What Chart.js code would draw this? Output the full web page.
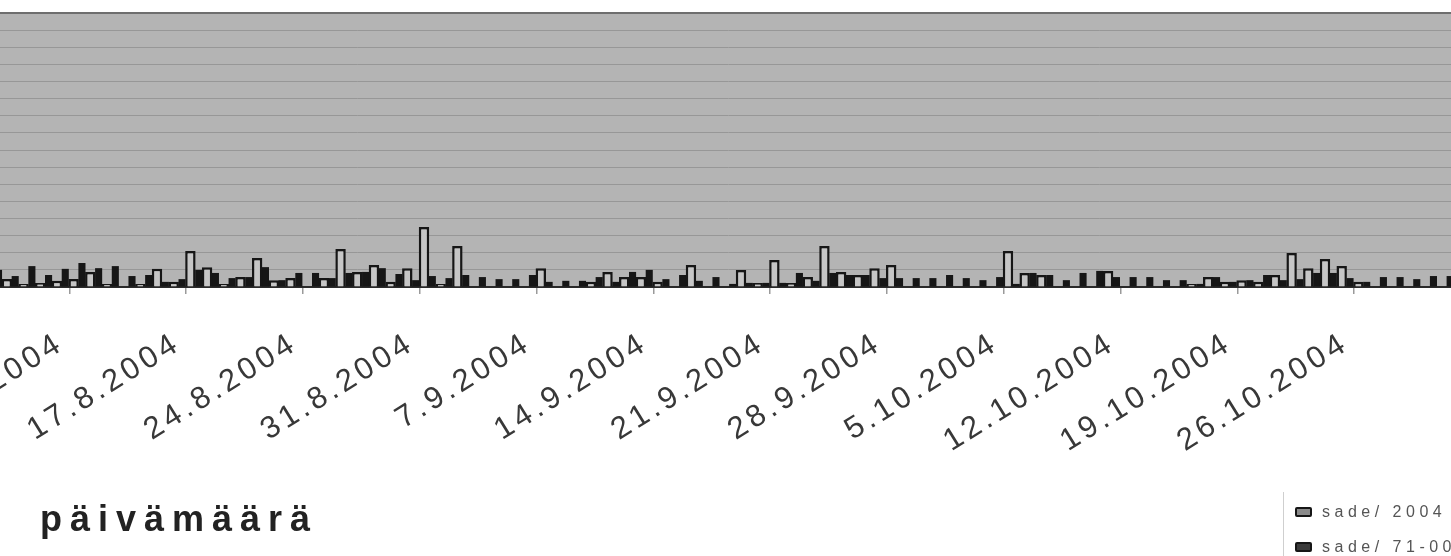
<!DOCTYPE html>
<html lang="fi">
<head>
<meta charset="utf-8">
<script src="https://cdn.jsdelivr.net/npm/chart.js@4.4.1/dist/chart.umd.min.js"></script>
<style>
  html, body { margin: 0; padding: 0; width: 1451px; height: 556px; overflow: hidden; background: #fff; }
  #wrap { position: absolute; left: -14px; top: 0; width: 1485px; height: 556px; }
  #title { position: absolute; left: 40px; top: 501px; font: bold 36px/36px "Liberation Sans", Arial, sans-serif;
           letter-spacing: 8px; color: #222; white-space: nowrap; }
  #legend { position: absolute; left: 1283px; top: 492px; width: 200px; height: 64px; border-left: 1px solid #cfcfcf;
            font: 16px/16px "Liberation Sans", Arial, sans-serif; color: #555; letter-spacing: 4.5px; white-space: nowrap; }
  .item { position: absolute; left: 11px; display: flex; align-items: center; }
  .box { width: 13px; height: 6px; border: 2px solid #111; border-radius: 2px; margin-right: 10px; }
</style>
</head>
<body>
<div id="wrap"><canvas id="rainChart" width="1485" height="556"></canvas></div>
<div id="title">päivämäärä</div>
<div id="legend"></div>
<script>
// päivät 6.8.2004 - 2.11.2004
var DAYS = [
  '6.8.2004', '7.8.2004', '8.8.2004', '9.8.2004', '10.8.2004', '11.8.2004', '12.8.2004', '13.8.2004',
  '14.8.2004', '15.8.2004', '16.8.2004', '17.8.2004', '18.8.2004', '19.8.2004', '20.8.2004', '21.8.2004',
  '22.8.2004', '23.8.2004', '24.8.2004', '25.8.2004', '26.8.2004', '27.8.2004', '28.8.2004', '29.8.2004',
  '30.8.2004', '31.8.2004',
  '1.9.2004', '2.9.2004', '3.9.2004', '4.9.2004', '5.9.2004', '6.9.2004', '7.9.2004', '8.9.2004',
  '9.9.2004', '10.9.2004', '11.9.2004', '12.9.2004', '13.9.2004', '14.9.2004', '15.9.2004', '16.9.2004',
  '17.9.2004', '18.9.2004', '19.9.2004', '20.9.2004', '21.9.2004', '22.9.2004', '23.9.2004', '24.9.2004',
  '25.9.2004', '26.9.2004', '27.9.2004', '28.9.2004', '29.9.2004', '30.9.2004',
  '1.10.2004', '2.10.2004', '3.10.2004', '4.10.2004', '5.10.2004', '6.10.2004', '7.10.2004', '8.10.2004',
  '9.10.2004', '10.10.2004', '11.10.2004', '12.10.2004', '13.10.2004', '14.10.2004', '15.10.2004', '16.10.2004',
  '17.10.2004', '18.10.2004', '19.10.2004', '20.10.2004', '21.10.2004', '22.10.2004', '23.10.2004', '24.10.2004',
  '25.10.2004', '26.10.2004', '27.10.2004', '28.10.2004', '29.10.2004', '30.10.2004', '31.10.2004',
  '1.11.2004', '2.11.2004'
];

// näytettävät päivämäärät akselilla
var TICK_DAYS = ['10.8.2004', '17.8.2004', '24.8.2004', '31.8.2004', '7.9.2004', '14.9.2004',
  '21.9.2004', '28.9.2004', '5.10.2004', '12.10.2004', '19.10.2004', '26.10.2004'];

// sade mm / vrk
var SADE_2004 = [
  1.2, 2.3, 0.9, 1.2, 1.8, 2.3, 4.4, 0.9, 0, 0.9, 5.3, 1.5, 10.5, 5.8, 0.9, 2.9,
  8.5, 2.0, 2.6, 0, 2.6, 11.1, 4.4, 6.4, 1.5, 5.5,
  17.5, 0.9, 12.0, 0, 0, 0, 0, 5.5, 0, 0, 1.5, 4.4, 2.9, 2.9, 1.5, 0,
  6.4, 0, 0, 5.0, 1.2, 7.9, 1.2, 2.9, 12.0, 4.4, 3.5, 5.5, 6.4, 0,
  0, 0, 0, 0, 0, 10.5, 4.1, 3.5, 0, 0, 0, 4.7, 0, 0, 0, 0,
  0.9, 2.9, 1.5, 2.0, 1.5, 3.5, 9.9, 5.5, 8.2, 6.1, 1.5, 0, 0, 0, 0,
  0, 0
];
var SADE_71_00 = [
  5.0, 3.2, 6.1, 3.5, 5.3, 7.0, 5.5, 6.1, 3.2, 3.5, 1.5, 2.3, 5.0, 4.1, 2.6, 2.9,
  5.8, 2.0, 4.1, 4.1, 2.6, 4.1, 4.4, 5.5, 3.8, 2.0,
  3.2, 2.6, 3.5, 2.9, 2.3, 2.3, 3.5, 1.5, 1.8, 1.8, 2.9, 1.5, 4.4, 5.0, 2.3, 3.5,
  1.8, 2.9, 0.9, 1.2, 1.2, 1.2, 4.1, 1.8, 4.1, 3.5, 3.5, 2.6, 2.6, 2.6,
  2.6, 3.5, 2.6, 2.0, 2.9, 0.9, 4.1, 3.5, 2.0, 4.1, 4.7, 2.9, 2.9, 2.9, 2.0, 2.0,
  0.9, 2.9, 1.5, 2.0, 3.5, 2.0, 2.3, 4.1, 4.1, 2.6, 1.5, 2.9, 2.9, 2.3, 3.2,
  3.2, 2.9
];

var LABEL_SPACING = '4px';

function isWeekMark(i) {
  return i > 0 && TICK_DAYS.indexOf(DAYS[i - 1]) !== -1;
}

var plotBackground = {
  id: 'plotBackground',
  beforeLayout: function(chart) {
    chart.ctx.letterSpacing = LABEL_SPACING;
  },
  beforeDraw: function(chart) {
    var ctx = chart.ctx;
    var a = chart.chartArea;
    ctx.letterSpacing = LABEL_SPACING;
    ctx.save();
    ctx.fillStyle = '#b4b4b4';
    ctx.fillRect(a.left, a.top, a.right - a.left, a.bottom - a.top);
    ctx.restore();
  }
};

document.addEventListener('DOMContentLoaded', function() {
    var ctx = document.getElementById('rainChart').getContext('2d');
    var rainChart = new Chart(ctx, {
        type: 'bar',
        data: {
            labels: DAYS,
            datasets: [{
                label: 'sade/ 2004',
                data: SADE_2004,
                backgroundColor: '#c6c6c6',
                borderColor: '#161616',
                borderWidth: 2.5,
                barPercentage: 1.25,
                categoryPercentage: 1
            }, {
                label: 'sade/ 71-00',
                data: SADE_71_00,
                backgroundColor: '#161616',
                borderColor: '#161616',
                borderWidth: 0,
                barPercentage: 0.85,
                categoryPercentage: 1
            }]
        },
        options: {
            responsive: false,
            animation: false,
            layout: { padding: { top: 13, left: 0, right: 0, bottom: 0 } },
            plugins: {
                legend: { display: false },
                tooltip: { enabled: false }
            },
            scales: {
                x: {
                    grid: {
                        offset: true,
                        drawOnChartArea: false,
                        tickLength: 7,
                        lineWidth: 1.5,
                        color: function(c) { return isWeekMark(c.index) ? '#9a9a9a' : 'rgba(0,0,0,0)'; }
                    },
                    border: { color: '#2a2a2a', width: 2 },
                    ticks: {
                        autoSkip: false,
                        minRotation: 32,
                        maxRotation: 32,
                        padding: 31,
                        color: '#383838',
                        font: { family: '"Liberation Sans", Arial, sans-serif', size: 31 },
                        callback: function(value, index) {
                            return TICK_DAYS.indexOf(DAYS[index]) !== -1 ? DAYS[index] : '';
                        }
                    },
                    afterFit: function(scale) {
                        scale.height = 269;
                        scale.paddingLeft = 0;
                        scale.paddingRight = 0;
                    }
                },
                y: {
                    min: 0,
                    max: 80,
                    ticks: { display: false, stepSize: 5 },
                    grid: {
                        drawTicks: false,
                        color: function(c) { return c.tick.value === 80 ? '#6e6e6e' : '#979797'; },
                        lineWidth: function(c) { return c.tick.value === 80 ? 2 : 1; }
                    },
                    border: { display: false },
                    afterFit: function(scale) {
                        scale.width = 0;
                        scale.paddingTop = 0;
                        scale.paddingBottom = 0;
                    }
                }
            }
        },
        plugins: [plotBackground]
    });

    // selite
    var legendEl = document.getElementById('legend');
    var items = rainChart.options.plugins.legend.labels.generateLabels(rainChart);
    items.forEach(function(item, i) {
        var row = document.createElement('div');
        row.className = 'item';
        row.style.top = (12 + i * 35) + 'px';
        var box = document.createElement('span');
        box.className = 'box';
        box.style.background = i === 0 ? '#8a8a8a' : '#3a3a3a';
        box.style.borderColor = item.strokeStyle;
        var txt = document.createElement('span');
        txt.textContent = item.text;
        row.appendChild(box);
        row.appendChild(txt);
        legendEl.appendChild(row);
    });
});
</script>
</body>
</html>
